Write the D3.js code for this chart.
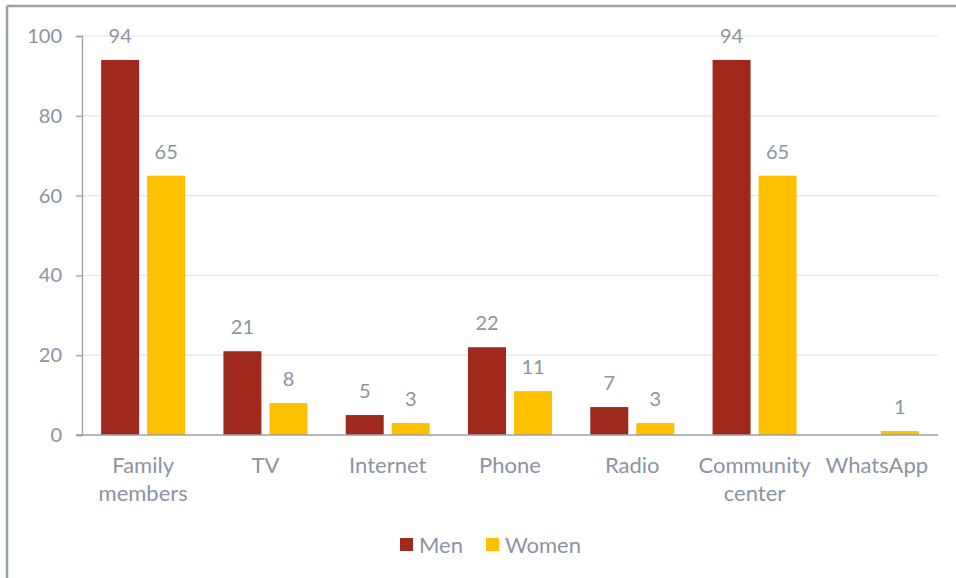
<!DOCTYPE html>
<html>
<head>
<meta charset="utf-8">
<script src="https://cdn.jsdelivr.net/npm/d3@7"></script>
<style>
  html, body { margin: 0; padding: 0; background: #fff; }
  svg { display: block; font-family: Lato, "Open Sans", sans-serif; }
</style>
</head>
<body>
<svg id="chart" width="956" height="578"></svg>
<script>
const categories = [["Family", "members"], ["TV"], ["Internet"], ["Phone"], ["Radio"], ["Community", "center"], ["WhatsApp"]];
const seriesNames = ["Men", "Women"];
const menValues = [94, 21, 5, 22, 7, 94, null];
const womenValues = [65, 8, 3, 11, 3, 65, 1];
const yTicks = [0, 20, 40, 60, 80, 100];
const colors = ["#A0291E", "#FFC000"];

const svg = d3.select("#chart");
const W = 956, H = 578;
const textColor = "#8B94A3";
const frameColor = "#9AA0AB";

// outer frame (top and left edges)
svg.append("line").attr("x1", 7).attr("x2", W).attr("y1", 6).attr("y2", 6)
  .attr("stroke", frameColor).attr("stroke-width", 2.5);
svg.append("line").attr("x1", 7).attr("x2", 7).attr("y1", 6).attr("y2", H)
  .attr("stroke", frameColor).attr("stroke-width", 2.5);

const plotLeft = 82, plotRight = 938, plotTop = 36, plotBottom = 435;

const x = d3.scaleBand().domain(d3.range(categories.length)).range([plotLeft, plotRight]).paddingInner(0).paddingOuter(0);
const xs = d3.scaleBand().domain([0, 1]).range([0, x.bandwidth()]).paddingInner(0.174).paddingOuter(0.416);
const y = d3.scaleLinear().domain([0, 100]).range([plotBottom, plotTop]);

// gridlines
svg.append("g").selectAll("line").data(yTicks.filter(d => d > 0)).join("line")
  .attr("x1", plotLeft).attr("x2", plotRight)
  .attr("y1", d => y(d)).attr("y2", d => y(d))
  .attr("stroke", "#E6E6E6").attr("stroke-width", 1.2);

// y axis
const yAxis = svg.append("g").attr("transform", `translate(${plotLeft},0)`)
  .call(d3.axisLeft(y).tickValues(yTicks).tickSize(6).tickPadding(14));
yAxis.select(".domain").attr("stroke", frameColor).attr("stroke-width", 1.3);
yAxis.selectAll(".tick line").attr("stroke", frameColor).attr("stroke-width", 1.3);
yAxis.selectAll(".tick text").attr("fill", textColor).attr("font-size", 20)
  .attr("font-family", "Lato, sans-serif");

// bars and value labels
const series = [menValues, womenValues];
series.forEach((vals, si) => {
  const pts = vals.map((v, i) => ({ v, i })).filter(d => d.v != null);
  svg.append("g").selectAll("rect").data(pts).join("rect")
    .attr("x", d => x(d.i) + xs(si))
    .attr("width", xs.bandwidth())
    .attr("y", d => y(d.v))
    .attr("height", d => y(0) - y(d.v))
    .attr("fill", colors[si]);
  svg.append("g").selectAll("text").data(pts).join("text")
    .attr("x", d => x(d.i) + xs(si) + xs.bandwidth() / 2)
    .attr("y", d => y(d.v) - 17)
    .attr("text-anchor", "middle")
    .attr("fill", textColor).attr("font-size", 20)
    .text(d => d.v);
});

// baseline
svg.append("line").attr("x1", plotLeft - 6).attr("x2", plotRight).attr("y1", plotBottom).attr("y2", plotBottom)
  .attr("stroke", frameColor).attr("stroke-width", 1.3);

// category labels
const catG = svg.append("g");
categories.forEach((lines, i) => {
  const cx = x(i) + x.bandwidth() / 2;
  const t = catG.append("text")
    .attr("x", cx)
    .attr("y", 473)
    .attr("text-anchor", "middle")
    .attr("fill", textColor).attr("font-size", 22);
  lines.forEach((ln, j) => {
    t.append("tspan").attr("x", cx).attr("dy", j === 0 ? 0 : 28).text(ln);
  });
});

// legend
const legendItems = [{ name: seriesNames[0], x: 400 }, { name: seriesNames[1], x: 486 }];
legendItems.forEach((d, i) => {
  svg.append("rect").attr("x", d.x).attr("y", 538).attr("width", 13).attr("height", 13).attr("fill", colors[i]);
  svg.append("text").attr("x", d.x + 19).attr("y", 553).attr("fill", textColor).attr("font-size", 22).text(d.name);
});
</script>
</body>
</html>
